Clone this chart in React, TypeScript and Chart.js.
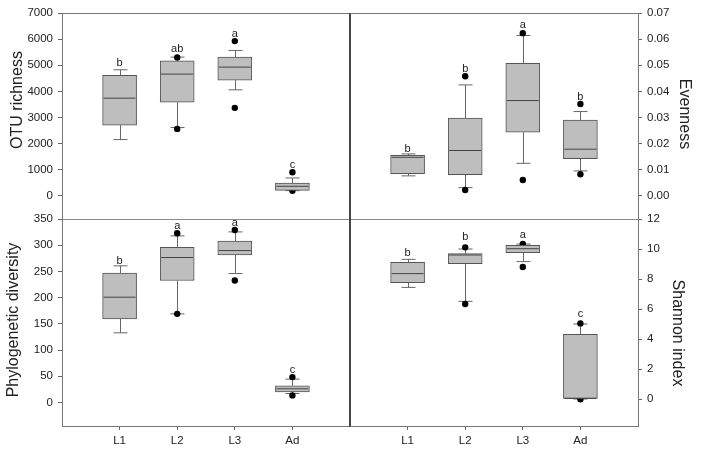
import React, { useEffect, useRef } from 'react';
import { Chart, registerables } from 'chart.js';

Chart.register(...registerables);

const W = 701;
const H = 453;
const FONT = '"Liberation Sans", Arial, sans-serif';

const categories = ['L1', 'L2', 'L3', 'Ad'];

// OTU richness
const otuWhiskerHigh = [4828, 5313, 5568, 689];
const otuQ3 = [4611, 5172, 5313, 497];
const otuMedian = [3742, 4662, 4930, 371];
const otuQ1 = [2708, 3589, 4432, 218];
const otuWhiskerLow = [2158, 2618, 4061, 205];
const otuOutliers = [[], [5300, 2567], [5926, 3372], [907, 200]];
const otuLetters = ['b', 'ab', 'a', 'c'];
const otuLetterY = [4973, 5497, 6094, 1060];
const otuTicks = [0, 1000, 2000, 3000, 4000, 5000, 6000, 7000];

// Evenness
const evenWhiskerHigh = [0.0161, 0.0425, 0.0614, 0.0323];
const evenQ3 = [0.0156, 0.0298, 0.0507, 0.029];
const evenMedian = [0.0148, 0.0174, 0.0365, 0.0179];
const evenQ1 = [0.0085, 0.0082, 0.0244, 0.0143];
const evenWhiskerLow = [0.0077, 0.0032, 0.0125, 0.0096];
const evenOutliers = [[], [0.0458, 0.0023], [0.0623, 0.0061], [0.0352, 0.0083]];
const evenLetters = ['b', 'b', 'a', 'b'];
const evenLetterY = [0.0169, 0.0476, 0.0642, 0.0367];
const evenTicks = [0, 0.01, 0.02, 0.03, 0.04, 0.05, 0.06, 0.07];

// Phylogenetic diversity
const pdWhiskerHigh = [260.6, 317.8, 325.4, 44.5];
const pdQ3 = [247, 296, 308, 31.7];
const pdMedian = [200.8, 276.5, 289.8, 26];
const pdQ1 = [159.5, 232.6, 281.6, 20.2];
const pdWhiskerLow = [132.8, 169, 246, 17];
const pdOutliers = [[], [322.9, 169], [329, 232.6], [48.3, 13.4]];
const pdLetters = ['b', 'a', 'a', 'c'];
const pdLetterY = [265, 330, 336, 56.5];
const pdTicks = [0, 50, 100, 150, 200, 250, 300, 350];

// Shannon index
const shWhiskerHigh = [9.31, 10.0, 10.33, 5.0];
const shQ3 = [9.11, 9.69, 10.24, 4.31];
const shMedian = [8.36, 9.6, 10.02, 0.04];
const shQ1 = [7.76, 9.02, 9.76, 0.04];
const shWhiskerLow = [7.44, 6.51, 9.16, 0.0];
const shOutliers = [[], [10.11, 6.33], [10.33, 8.8], [5.04, -0.02]];
const shLetters = ['b', 'b', 'a', 'c'];
const shLetterY = [9.55, 10.6, 10.71, 5.45];
const shTicks = [0, 2, 4, 6, 8, 10, 12];

type Panel = {
  whiskerHigh: number[];
  q3: number[];
  median: number[];
  q1: number[];
  whiskerLow: number[];
  outliers: number[][];
  letters: string[];
  letterY: number[];
  ticks: number[];
  decimals: number;
  min: number;
  max: number;
  title: string;
  side: 'left' | 'right';
  row: 'top' | 'bottom';
  titleX: number;
  titleY: number;
};

const panels: Panel[] = [
  {
    whiskerHigh: otuWhiskerHigh, q3: otuQ3, median: otuMedian, q1: otuQ1, whiskerLow: otuWhiskerLow,
    outliers: otuOutliers, letters: otuLetters, letterY: otuLetterY, ticks: otuTicks, decimals: 0,
    min: -880, max: 7000, title: 'OTU richness', side: 'left', row: 'top', titleX: 22, titleY: 100,
  },
  {
    whiskerHigh: evenWhiskerHigh, q3: evenQ3, median: evenMedian, q1: evenQ1, whiskerLow: evenWhiskerLow,
    outliers: evenOutliers, letters: evenLetters, letterY: evenLetterY, ticks: evenTicks, decimals: 2,
    min: -0.0088, max: 0.07, title: 'Evenness', side: 'right', row: 'top', titleX: 680, titleY: 114,
  },
  {
    whiskerHigh: pdWhiskerHigh, q3: pdQ3, median: pdMedian, q1: pdQ1, whiskerLow: pdWhiskerLow,
    outliers: pdOutliers, letters: pdLetters, letterY: pdLetterY, ticks: pdTicks, decimals: 0,
    min: -45, max: 350, title: 'Phylogenetic diversity', side: 'left', row: 'bottom', titleX: 18, titleY: 320,
  },
  {
    whiskerHigh: shWhiskerHigh, q3: shQ3, median: shMedian, q1: shQ1, whiskerLow: shWhiskerLow,
    outliers: shOutliers, letters: shLetters, letterY: shLetterY, ticks: shTicks, decimals: 0,
    min: -1.8, max: 12, title: 'Shannon index', side: 'right', row: 'bottom', titleX: 673, titleY: 333,
  },
];

const DIV_X = 350;
const DIV_Y = 219;
const LEFT = 62;
const RIGHT = 638;
const TOP = 13;
const BOTTOM = 426;

function line(ctx: CanvasRenderingContext2D, x1: number, y1: number, x2: number, y2: number, color: string, w: number) {
  ctx.save();
  ctx.strokeStyle = color;
  ctx.lineWidth = w;
  ctx.beginPath();
  ctx.moveTo(x1, y1);
  ctx.lineTo(x2, y2);
  ctx.stroke();
  ctx.restore();
}

function makeChart(canvas: HTMLCanvasElement, p: Panel) {
  const isLeft = p.side === 'left';
  const isTop = p.row === 'top';
  const tickFont = { family: FONT, size: 11.5 };

  const plugin = {
    id: 'boxExtras',
    beforeDatasetsDraw(chart: any) {
      const { ctx } = chart;
      const x = chart.scales.x;
      const y = chart.scales.y;
      ctx.save();
      ctx.strokeStyle = '#666';
      ctx.lineWidth = 1;
      p.q1.forEach((_, i) => {
        const cx = Math.round(x.getPixelForValue(i + 1)) + 0.5;
        const yh = y.getPixelForValue(p.whiskerHigh[i]);
        const yq3 = y.getPixelForValue(p.q3[i]);
        const yl = y.getPixelForValue(p.whiskerLow[i]);
        const yq1 = y.getPixelForValue(p.q1[i]);
        ctx.beginPath();
        ctx.moveTo(cx, yq3);
        ctx.lineTo(cx, yh);
        ctx.moveTo(cx - 7, yh);
        ctx.lineTo(cx + 7, yh);
        ctx.moveTo(cx, yq1);
        ctx.lineTo(cx, yl);
        ctx.moveTo(cx - 7, yl);
        ctx.lineTo(cx + 7, yl);
        ctx.stroke();
      });
      ctx.restore();
    },
    afterDatasetsDraw(chart: any) {
      const { ctx } = chart;
      const x = chart.scales.x;
      const y = chart.scales.y;
      ctx.save();
      ctx.strokeStyle = '#444';
      ctx.lineWidth = 1;
      p.median.forEach((m, i) => {
        const cx = x.getPixelForValue(i + 1);
        const my = y.getPixelForValue(m);
        ctx.beginPath();
        ctx.moveTo(cx - 16, my);
        ctx.lineTo(cx + 16, my);
        ctx.stroke();
      });
      ctx.fillStyle = '#222';
      ctx.font = `11px ${FONT}`;
      ctx.textAlign = 'center';
      ctx.textBaseline = 'alphabetic';
      p.letters.forEach((l, i) => {
        ctx.fillText(l, x.getPixelForValue(i + 1), y.getPixelForValue(p.letterY[i]));
      });
      ctx.restore();
    },
    afterDraw(chart: any) {
      const { ctx } = chart;
      const a = chart.chartArea;
      // outer frame
      if (isTop) line(ctx, a.left, TOP + 0.5, a.right, TOP + 0.5, '#777', 1);
      else line(ctx, a.left, BOTTOM + 0.5, a.right, BOTTOM + 0.5, '#777', 1);
      if (isLeft) line(ctx, LEFT + 0.5, a.top, LEFT + 0.5, a.bottom + 1, '#777', 1);
      else line(ctx, RIGHT + 0.5, a.top, RIGHT + 0.5, a.bottom + 1, '#777', 1);
      // dividers
      if (isTop) line(ctx, a.left, DIV_Y + 0.5, a.right, DIV_Y + 0.5, '#8a8a8a', 1);
      if (isLeft) line(ctx, DIV_X, a.top, DIV_X, a.bottom + 1, '#333', 1.8);
      // title
      ctx.save();
      ctx.fillStyle = '#222';
      ctx.font = `16px ${FONT}`;
      ctx.textAlign = 'center';
      ctx.textBaseline = 'alphabetic';
      ctx.translate(p.titleX, p.titleY);
      ctx.rotate(isLeft ? -Math.PI / 2 : Math.PI / 2);
      ctx.fillText(p.title, 0, 0);
      ctx.restore();
    },
  };

  const outlierPoints = p.outliers.flatMap((arr, i) => arr.map((v) => ({ x: i + 1, y: v })));
  const boxes = categories.map((_, i) => ({ x: i + 1, y: [p.q1[i], p.q3[i]] }));

  const setCatTicks = (s: any) => {
    s.ticks = categories.map((_, i) => ({ value: i + 1 }));
  };

  return new Chart(canvas, {
    type: 'bar',
    data: {
      datasets: [
        {
          type: 'bar',
          data: boxes as any,
          backgroundColor: '#bebebe',
          borderColor: '#555',
          borderWidth: 1,
          borderSkipped: false,
          barThickness: 34,
        } as any,
        {
          type: 'scatter',
          data: outlierPoints,
          pointRadius: 3.2,
          backgroundColor: '#000',
          borderColor: '#000',
          borderWidth: 0,
        } as any,
      ],
    },
    options: {
      responsive: false,
      animation: false,
      events: [],
      layout: {
        padding: {
          left: isLeft ? 0 : DIV_X,
          right: isLeft ? W - DIV_X : 0,
          top: isTop ? TOP : DIV_Y,
          bottom: isTop ? H - DIV_Y : 0,
        },
      },
      plugins: {
        legend: { display: false },
        tooltip: { enabled: false },
        title: { display: false },
      },
      scales: {
        x: {
          type: 'linear',
          min: 0,
          max: 5,
          offset: false,
          display: !isTop,
          afterBuildTicks: setCatTicks,
          afterFit: (s: any) => {
            s.height = isTop ? 0 : H - BOTTOM;
          },
          ticks: {
            autoSkip: false,
            maxRotation: 0,
            font: tickFont,
            color: '#222',
            padding: 4,
            callback: (v: any) => categories[Math.round(Number(v)) - 1] ?? '',
          },
          grid: { offset: false, drawOnChartArea: false, drawTicks: true, tickLength: 4, color: '#666' },
          border: { display: false },
        },
        y: {
          type: 'linear',
          position: p.side,
          min: p.min,
          max: p.max,
          afterBuildTicks: (s: any) => {
            s.ticks = p.ticks.map((v) => ({ value: v }));
          },
          afterFit: (s: any) => {
            s.width = isLeft ? LEFT : W - RIGHT;
          },
          ticks: {
            font: tickFont,
            color: '#222',
            padding: 5,
            callback: (v: any) => Number(v).toFixed(p.decimals),
          },
          grid: { drawOnChartArea: false, drawTicks: true, tickLength: 4, color: '#666' },
          border: { display: false },
        },
      },
    } as any,
    plugins: [plugin],
  });
}

export default function App() {
  const refs = [useRef<HTMLCanvasElement>(null), useRef<HTMLCanvasElement>(null), useRef<HTMLCanvasElement>(null), useRef<HTMLCanvasElement>(null)];

  useEffect(() => {
    const charts = panels.map((p, i) => makeChart(refs[i].current as HTMLCanvasElement, p));
    return () => charts.forEach((c) => c.destroy());
  }, []);

  return (
    <div style={{ position: 'fixed', left: 0, top: 0, width: W, height: H, background: '#fff' }}>
      {panels.map((p, i) => (
        <canvas
          key={p.title}
          ref={refs[i]}
          width={W}
          height={H}
          style={{ position: 'absolute', left: 0, top: 0, width: W, height: H }}
        />
      ))}
    </div>
  );
}
